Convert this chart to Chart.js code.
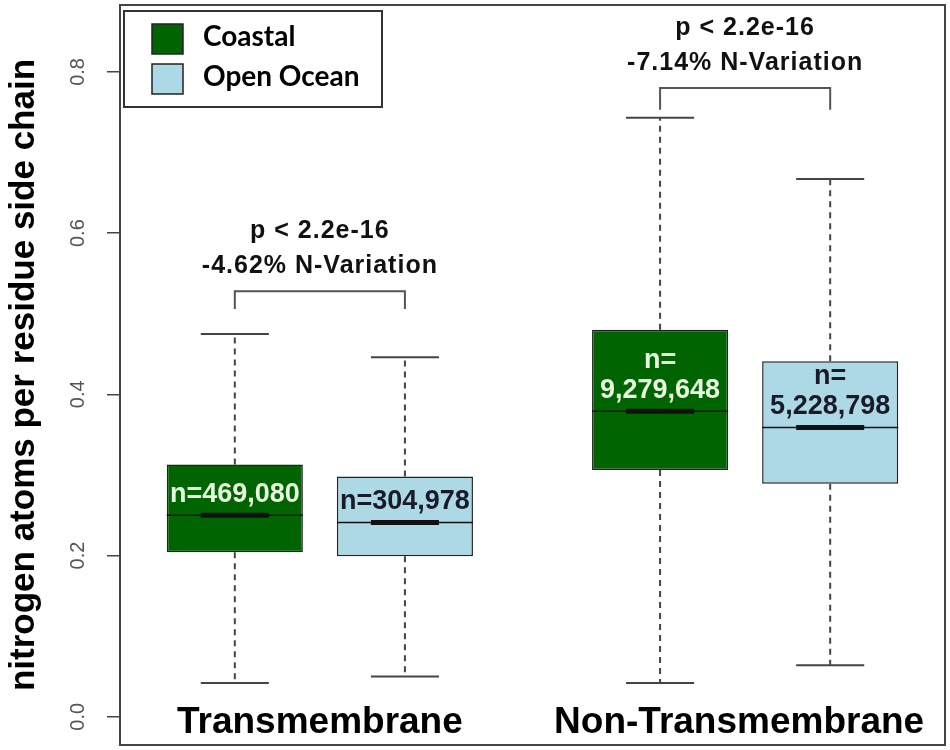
<!DOCTYPE html>
<html>
<head>
<meta charset="utf-8">
<script src="https://cdn.jsdelivr.net/npm/chart.js@4.4.1/dist/chart.umd.min.js"></script>
<style>
  html, body { margin: 0; padding: 0; background: #fff; }
  #wrap { width: 950px; height: 750px; }
</style>
</head>
<body>
<div id="wrap"><canvas id="boxChart"></canvas></div>
<script>
// groups on the x axis
const groups = ["Transmembrane", "Non-Transmembrane"];
const groupCenter = [2, 7];
const coastalPos = [1, 6];
const oceanPos = [3, 8];

// box statistics
const coastalMin = [0.042, 0.042];
const coastalQ1  = [0.204, 0.306];
const coastalMed = [0.250, 0.379];
const coastalQ3  = [0.313, 0.480];
const coastalMax = [0.475, 0.743];

const oceanMin = [0.050, 0.064];
const oceanQ1  = [0.199, 0.289];
const oceanMed = [0.241, 0.359];
const oceanQ3  = [0.298, 0.441];
const oceanMax = [0.446, 0.667];

const coastalN = [["n=469,080"], ["n=", "9,279,648"]];
const oceanN   = [["n=304,978"], ["n=", "5,228,798"]];

// significance brackets
const pValues    = ["p < 2.2e-16", "p < 2.2e-16"];
const nVariation = ["-4.62% N-Variation", "-7.14% N-Variation"];
const bracketTop = [0.528, 0.780];
const bracketLeg = [0.506, 0.753];

const yTicks = [0, 0.2, 0.4, 0.6, 0.8];

const GREEN = "#006400";
const BLUE = "#add8e6";
const ARIAL = '"Liberation Sans", Arial, sans-serif';

function line(ctx, x1, y1, x2, y2) {
    ctx.beginPath();
    ctx.moveTo(x1, y1);
    ctx.lineTo(x2, y2);
    ctx.stroke();
}

const boxParts = {
    id: "boxParts",
    afterDatasetsDraw(chart) {
        const ctx = chart.ctx;
        const xs = chart.scales.x, ys = chart.scales.y;
        const area = chart.chartArea;
        const series = [
            {meta: chart.getDatasetMeta(0), lo: coastalMin, q1: coastalQ1, med: coastalMed, q3: coastalQ3, hi: coastalMax, n: coastalN, txt: "#e9f6e1"},
            {meta: chart.getDatasetMeta(1), lo: oceanMin, q1: oceanQ1, med: oceanMed, q3: oceanQ3, hi: oceanMax, n: oceanN, txt: "#1a1a28"}
        ];

        ctx.save();
        series.forEach(s => {
            s.meta.data.forEach((bar, i) => {
                const cx = bar.x;
                const half = bar.width / 2;
                const yHi = ys.getPixelForValue(s.hi[i]);
                const yLo = ys.getPixelForValue(s.lo[i]);
                const yMed = ys.getPixelForValue(s.med[i]);

                // whiskers
                ctx.strokeStyle = "#444";
                ctx.lineWidth = 2;
                ctx.setLineDash([6, 5]);
                line(ctx, cx, ys.getPixelForValue(s.q3[i]), cx, yHi);
                line(ctx, cx, ys.getPixelForValue(s.q1[i]), cx, yLo);
                ctx.setLineDash([]);
                line(ctx, cx - half / 2, yHi, cx + half / 2, yHi);
                line(ctx, cx - half / 2, yLo, cx + half / 2, yLo);

                // median
                ctx.strokeStyle = "#111";
                ctx.lineWidth = 1.5;
                line(ctx, cx - half, yMed, cx + half, yMed);
                ctx.lineWidth = 5;
                line(ctx, cx - half / 2, yMed, cx + half / 2, yMed);

                // counts
                ctx.font = "bold 27px " + ARIAL;
                ctx.textAlign = "center";
                ctx.textBaseline = "middle";
                ctx.fillStyle = s.txt;
                const lines = s.n[i];
                lines.forEach((t, k) => {
                    ctx.fillText(t, cx, yMed - 21 - (lines.length - 1 - k) * 30);
                });
            });
        });

        // brackets with p-values
        groups.forEach((g, i) => {
            const xl = xs.getPixelForValue(coastalPos[i]);
            const xr = xs.getPixelForValue(oceanPos[i]);
            const yt = ys.getPixelForValue(bracketTop[i]);
            const yb = ys.getPixelForValue(bracketLeg[i]);
            ctx.strokeStyle = "#555";
            ctx.lineWidth = 2;
            ctx.beginPath();
            ctx.moveTo(xl, yb);
            ctx.lineTo(xl, yt);
            ctx.lineTo(xr, yt);
            ctx.lineTo(xr, yb);
            ctx.stroke();

            const xc = (xl + xr) / 2;
            ctx.fillStyle = "#111";
            ctx.font = "bold 25px " + ARIAL;
            ctx.letterSpacing = "1px";
            ctx.textAlign = "center";
            ctx.textBaseline = "middle";
            ctx.fillText(nVariation[i], xc, yt - 25);
            ctx.fillText(pValues[i], xc, yt - 60);
            ctx.letterSpacing = "0px";

            // group label
            ctx.fillStyle = "#000";
            ctx.font = "bold 37px " + ARIAL;
            ctx.textBaseline = "alphabetic";
            ctx.fillText(g, xs.getPixelForValue(groupCenter[i]) - (i ? 6 : 0), area.bottom - 12);
        });

        // legend box
        const bx = area.left + 4, by = area.top + 6;
        ctx.strokeStyle = "#333";
        ctx.lineWidth = 2;
        ctx.strokeRect(bx, by, 258, 96);
        chart.data.datasets.forEach((ds, k) => {
            const sy = by + 13 + k * 40;
            ctx.fillStyle = ds.backgroundColor;
            ctx.fillRect(bx + 28, sy, 31, 30);
            ctx.strokeStyle = "#222";
            ctx.lineWidth = 1.5;
            ctx.strokeRect(bx + 28, sy, 31, 30);
            ctx.fillStyle = "#000";
            ctx.font = "bold 28px Lato, sans-serif";
            ctx.textAlign = "left";
            ctx.textBaseline = "middle";
            ctx.fillText(ds.label, bx + 79, sy + 13);
        });

        // frame round the plot
        ctx.strokeStyle = "#444";
        ctx.lineWidth = 2;
        ctx.strokeRect(area.left, area.top, area.right - area.left, area.bottom - area.top);
        ctx.restore();
    }
};

new Chart(document.getElementById("boxChart"), {
    type: "bar",
    data: {
        datasets: [
            {
                label: "Coastal",
                data: coastalPos.map((p, i) => ({x: p, y: [coastalQ1[i], coastalQ3[i]]})),
                backgroundColor: GREEN
            },
            {
                label: "Open Ocean",
                data: oceanPos.map((p, i) => ({x: p, y: [oceanQ1[i], oceanQ3[i]]})),
                backgroundColor: BLUE
            }
        ]
    },
    options: {
        responsive: true,
        maintainAspectRatio: false,
        animation: false,
        layout: {padding: {top: 5, right: 5, bottom: 5, left: 0}},
        datasets: {
            bar: {
                grouped: false,
                barPercentage: 0.8,
                categoryPercentage: 1,
                borderColor: "#222",
                borderWidth: 1.5,
                borderSkipped: false
            }
        },
        plugins: {
            legend: {display: false},
            tooltip: {enabled: false}
        },
        scales: {
            x: {
                type: "linear",
                offset: false,
                min: -0.35,
                max: 9.35,
                afterBuildTicks: s => { s.ticks = groupCenter.map(v => ({value: v})); },
                afterFit: s => { s.height = 0; s.paddingLeft = 0; s.paddingRight = 0; },
                ticks: {display: false},
                grid: {display: false, offset: false},
                border: {display: false}
            },
            y: {
                min: -0.035,
                max: 0.883,
                afterBuildTicks: s => { s.ticks = yTicks.map(v => ({value: v})); },
                afterFit: s => { s.width = 120; s.paddingTop = 0; s.paddingBottom = 0; },
                ticks: {
                    callback: v => v.toFixed(1),
                    minRotation: 90,
                    maxRotation: 90,
                    crossAlign: "center",
                    padding: 15,
                    color: "#555",
                    font: {family: ARIAL, size: 20}
                },
                grid: {drawOnChartArea: false, tickLength: 13, color: "#444", lineWidth: 1.5},
                border: {display: true, color: "#444", width: 2},
                title: {
                    display: true,
                    text: "nitrogen atoms per residue side chain",
                    color: "#000",
                    font: {family: ARIAL, size: 35, weight: "bold"},
                    padding: {top: 3, bottom: 0}
                }
            }
        }
    },
    plugins: [boxParts]
});
</script>
</body>
</html>
